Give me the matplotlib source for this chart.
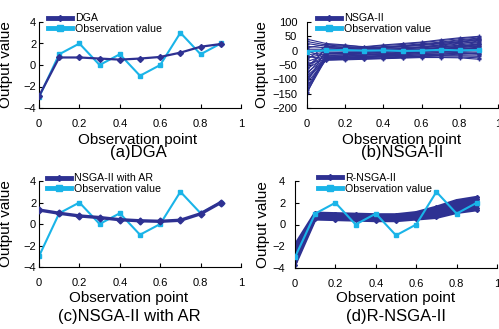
import matplotlib
matplotlib.use("Agg")
import matplotlib.pyplot as plt
from matplotlib.lines import Line2D

plt.rcParams['font.family'] = ['Liberation Sans', 'DejaVu Sans']

NAVY = '#2E3192'
CYAN = '#1AB4E8'

x_points = [0, 0.1, 0.2, 0.3, 0.4, 0.5, 0.6, 0.7, 0.8, 0.9]
observation = [-3, 1, 2, 0, 1, -1, 0, 3, 1, 2]
dga = [-2.9, 0.7, 0.7, 0.6, 0.5, 0.6, 0.75, 1.15, 1.7, 1.95]
nsga_ar = [1.3, 1.0, 0.75, 0.6, 0.4, 0.3, 0.25, 0.35, 0.95, 2.0]

nsga2_runs = [
    [40, 25, 20, 12, 18, 22, 28, 35, 42, 48],
    [32, 20, 15, 10, 14, 18, 24, 30, 38, 44],
    [25, 15, 10, 8, 10, 14, 18, 24, 32, 38],
    [15, 10, 6, 5, 8, 10, 14, 20, 26, 30],
    [5, 5, 3, 2, 5, 6, 10, 14, 18, 22],
    [-5, 0, 0, -2, 2, 3, 6, 8, 12, 15],
    [-15, -5, -5, -5, -2, 0, 2, 4, 6, 8],
    [-25, -10, -10, -10, -6, -4, -2, 0, 2, 4],
    [-38, -15, -14, -12, -10, -8, -6, -4, -2, 0],
    [-50, -20, -18, -16, -14, -12, -10, -8, -6, -5],
    [-62, -25, -22, -20, -18, -16, -14, -12, -10, -10],
    [-75, -28, -26, -24, -22, -20, -18, -16, -15, -15],
    [-88, -30, -28, -26, -25, -22, -20, -18, -18, -20],
    [-100, -32, -30, -28, -27, -24, -22, -22, -22, -25],
    [-112, -33, -32, -30, -28, -26, -24, -24, -25, -30],
    [-125, -22, -20, -15, -12, -8, -5, 0, 5, 10],
    [-138, -18, -15, -10, -5, 0, 5, 12, 20, 28],
    [-148, -12, -8, -5, 0, 5, 12, 20, 30, 40],
    [10, 22, 18, 14, 20, 25, 30, 38, 45, 50],
    [-20, -30, -25, -22, -18, -12, -5, 2, 10, 18],
    [0, -25, -20, -15, -10, -5, 0, 6, 14, 25],
    [-70, 12, 8, 6, 10, 15, 20, 28, 35, 42],
    [-110, 2, 0, -2, 0, 2, 6, 10, 16, 20],
    [-145, -28, -25, -20, -16, -10, -4, 4, 12, 22],
    [-130, -30, -27, -24, -20, -15, -10, -6, -2, 2],
    [-95, -26, -24, -22, -20, -18, -15, -12, -8, -12],
    [-82, -8, -6, -6, -4, -2, 0, 3, 8, 12],
    [-58, 6, 4, 2, 4, 8, 12, 16, 24, 34],
    [-45, -32, -30, -28, -26, -23, -20, -16, -12, -8],
    [-30, 16, 12, 9, 12, 16, 22, 26, 30, 36],
]

rnsga2_runs = [
    [-3.7, 0.5, 0.45, 0.4, 0.35, 0.35, 0.5, 0.65, 1.1, 1.35],
    [-3.4, 0.6, 0.55, 0.5, 0.45, 0.45, 0.6, 0.8, 1.3, 1.55],
    [-3.1, 0.7, 0.65, 0.6, 0.55, 0.55, 0.7, 0.95, 1.5, 1.75],
    [-2.8, 0.8, 0.75, 0.7, 0.65, 0.65, 0.8, 1.1, 1.7, 1.95],
    [-2.5, 0.9, 0.85, 0.8, 0.75, 0.75, 0.9, 1.25, 1.85, 2.15],
    [-2.2, 0.95, 0.92, 0.88, 0.82, 0.82, 1.0, 1.4, 2.0, 2.3],
    [-1.9, 1.05, 1.0, 0.95, 0.9, 0.9, 1.1, 1.6, 2.2, 2.5],
]

W, H = 499, 329
fig = plt.figure(figsize=(W / 100, H / 100), dpi=100)


def add_axes_px(left, top, right, bottom):
    return fig.add_axes([left / W, (H - bottom) / H, (right - left) / W, (bottom - top) / H])


def style(ax, yticks, ypad):
    ax.spines['top'].set_visible(False)
    ax.spines['right'].set_visible(False)
    for s in ('left', 'bottom'):
        ax.spines[s].set_linewidth(0.8)
    ax.set_xlim(0, 1)
    ax.set_xticks([0, 0.2, 0.4, 0.6, 0.8, 1])
    ax.set_xticklabels(['0', '0.2', '0.4', '0.6', '0.8', '1'])
    ax.set_yticks(yticks)
    ax.set_ylim(yticks[0], yticks[-1])
    ax.tick_params(axis='x', direction='in', length=3, width=0.8, labelsize=8, pad=8)
    ax.tick_params(axis='y', direction='in', length=3, width=0.8, labelsize=8, pad=ypad)


def legend(ax, label, xa, ya):
    handles = [
        Line2D([], [], color=NAVY, lw=3.5, marker='D', markersize=3),
        Line2D([], [], color=CYAN, lw=3.5, marker='s', markersize=4),
    ]
    ax.legend(handles, [label, 'Observation value'], loc='upper left',
              bbox_to_anchor=(xa, ya), frameon=False, fontsize=7.7,
              handlelength=2.25, handletextpad=0.3, labelspacing=0.05,
              borderpad=0, borderaxespad=0)


def labels(ax, sub, ylab_x, cx, xl_y, sub_y):
    ax.set_ylabel('Output value', fontsize=11)
    ax.yaxis.set_label_coords(ylab_x, 0.5)
    fig.text(cx / W, 1 - xl_y / H, 'Observation point', fontsize=11, ha='center', va='center')
    fig.text(cx / W, 1 - sub_y / H, sub, fontsize=12, ha='center', va='center')


small4 = [-4, -2, 0, 2, 4]

# (a)
ax = add_axes_px(39, 22, 241, 108)
ax.plot(x_points, observation, color=CYAN, lw=1.5, marker='s', markersize=3, zorder=2)
ax.plot(x_points, dga, color=NAVY, lw=1.6, marker='D', markersize=3, zorder=3)
style(ax, small4, 2)
legend(ax, 'DGA', 0.045, 1.1)
labels(ax, '(a)DGA', -0.13, 138, 140, 153)

# (b)
ax = add_axes_px(307, 22, 498, 108)
for run in nsga2_runs:
    ax.plot(x_points, run, color=NAVY, lw=0.8, marker='+', markersize=2.5, zorder=2)
ax.plot(x_points, observation, color=CYAN, lw=1.5, marker='s', markersize=3, zorder=3)
style(ax, [-200, -150, -100, -50, 0, 50, 100], 7)
legend(ax, 'NSGA-II', 0.052, 1.1)
labels(ax, '(b)NSGA-II', -0.2, 402, 140, 153)

# (c)
ax = add_axes_px(39, 181, 241, 267)
ax.plot(x_points, observation, color=CYAN, lw=1.5, marker='s', markersize=3, zorder=2)
ax.plot(x_points, nsga_ar, color=NAVY, lw=2.4, marker='D', markersize=3.5, zorder=3)
style(ax, small4, 2)
legend(ax, 'NSGA-II with AR', 0.04, 1.09)
labels(ax, '(c)NSGA-II with AR', -0.13, 129, 298, 316)

# (d)
ax = add_axes_px(295, 181, 497, 268)
for run in rnsga2_runs:
    ax.plot(x_points, run, color=NAVY, lw=2.2, marker='D', markersize=2, zorder=2)
ax.plot(x_points, observation, color=CYAN, lw=1.5, marker='s', markersize=3, zorder=3)
style(ax, small4, 7)
legend(ax, 'R-NSGA-II', 0.114, 1.09)
labels(ax, '(d)R-NSGA-II', -0.124, 396, 298, 316)

fig.savefig('out.png', dpi=100)
